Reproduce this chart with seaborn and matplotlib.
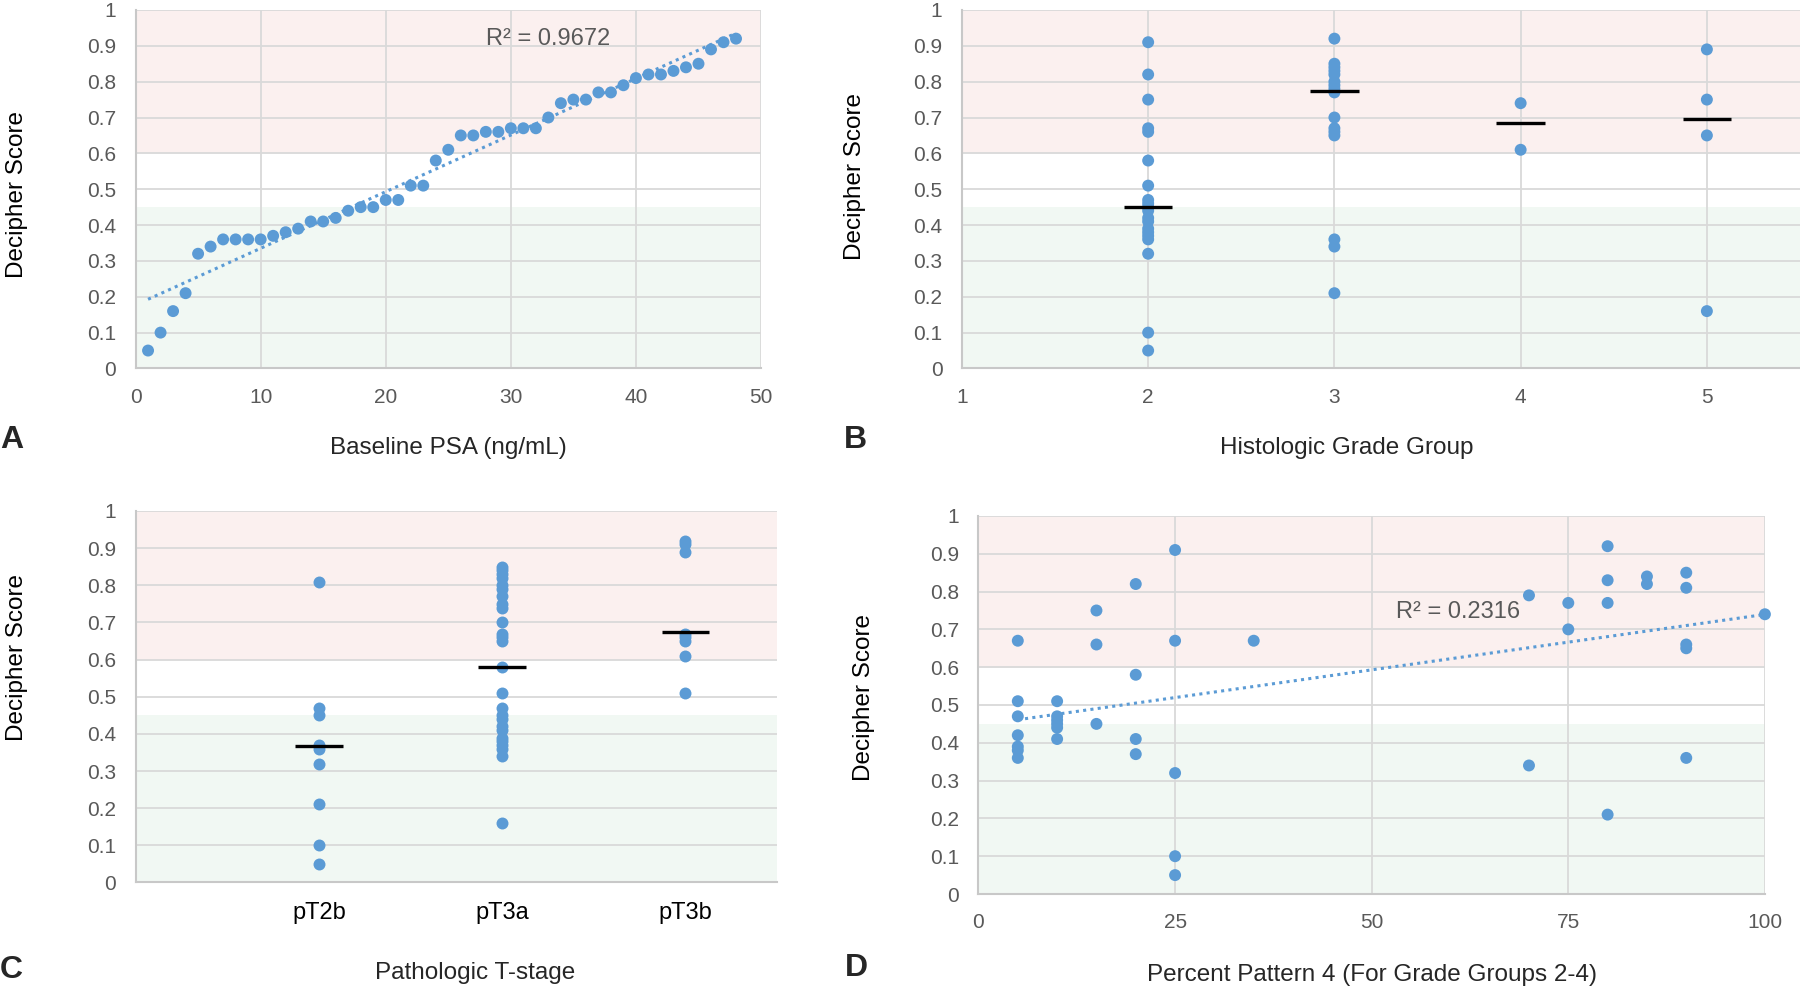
import numpy as np
import pandas as pd
import matplotlib
matplotlib.use("Agg")
import matplotlib.pyplot as plt
import seaborn as sns

# ---- data ----
# Panel A: Decipher score vs baseline PSA rank
psa_x = list(range(1, 49))
psa_score = [0.05, 0.10, 0.16, 0.21, 0.32, 0.34, 0.36, 0.36, 0.36, 0.36,
             0.37, 0.38, 0.39, 0.41, 0.41, 0.42, 0.44, 0.45, 0.45, 0.47,
             0.47, 0.51, 0.51, 0.58, 0.61, 0.65, 0.65, 0.66, 0.66, 0.67,
             0.67, 0.67, 0.70, 0.74, 0.75, 0.75, 0.77, 0.77, 0.79, 0.81,
             0.82, 0.82, 0.83, 0.84, 0.85, 0.89, 0.91, 0.92]
psa_r2 = "R² = 0.9672"

# Panel B: histologic grade group
grade_groups = [2, 3, 4, 5]
grade_scores = {
    2: [0.91, 0.82, 0.75, 0.67, 0.66, 0.58, 0.51, 0.47, 0.46, 0.45,
        0.44, 0.42, 0.41, 0.39, 0.38, 0.37, 0.36, 0.32, 0.10, 0.05],
    3: [0.92, 0.85, 0.84, 0.83, 0.82, 0.80, 0.79, 0.78, 0.77, 0.70,
        0.67, 0.66, 0.65, 0.36, 0.34, 0.21],
    4: [0.74, 0.61],
    5: [0.89, 0.75, 0.65, 0.16],
}
grade_medians = [0.45, 0.775, 0.685, 0.695]

# Panel C: pathologic T-stage
stages = ["pT2b", "pT3a", "pT3b"]
stage_scores = {
    "pT2b": [0.81, 0.47, 0.45, 0.37, 0.36, 0.32, 0.21, 0.10, 0.05],
    "pT3a": [0.85, 0.84, 0.83, 0.82, 0.80, 0.79, 0.77, 0.75, 0.74, 0.70,
             0.67, 0.66, 0.65, 0.58, 0.51, 0.47, 0.45, 0.44, 0.42, 0.41,
             0.39, 0.38, 0.37, 0.36, 0.34, 0.16],
    "pT3b": [0.92, 0.91, 0.89, 0.67, 0.66, 0.65, 0.61, 0.51],
}
stage_medians = [0.367, 0.58, 0.673]

# Panel D: percent pattern 4
pat4_x = [5, 5, 5, 5, 5, 5, 5,
          10, 10, 10, 10, 10, 10,
          15, 15, 15,
          20, 20, 20, 20,
          25, 25, 25, 25, 25,
          35,
          70, 70,
          75, 75,
          80, 80, 80, 80,
          85, 85,
          90, 90, 90, 90, 90,
          100]
pat4_score = [0.67, 0.51, 0.47, 0.42, 0.39, 0.38, 0.36,
              0.51, 0.47, 0.46, 0.45, 0.44, 0.41,
              0.75, 0.66, 0.45,
              0.82, 0.58, 0.41, 0.37,
              0.91, 0.67, 0.32, 0.10, 0.05,
              0.67,
              0.79, 0.34,
              0.77, 0.70,
              0.92, 0.83, 0.77, 0.21,
              0.84, 0.82,
              0.85, 0.81, 0.66, 0.65, 0.36,
              0.74]
pat4_r2 = "R² = 0.2316"

y_ticks = [0, 0.1, 0.2, 0.3, 0.4, 0.5, 0.6, 0.7, 0.8, 0.9, 1.0]
y_tick_labels = ["0", "0.1", "0.2", "0.3", "0.4", "0.5", "0.6", "0.7", "0.8", "0.9", "1"]

# ---- style ----
sns.set_style("white")
plt.rcParams['font.family'] = ['Liberation Sans', 'DejaVu Sans']

BLUE = '#5B9BD5'
PINK = '#FBF0EF'
GREEN = '#F1F8F3'
GRID = '#D9D9D9'
TICK = '#595959'
LABEL_SIZE = 17.5

fig = plt.figure(figsize=(18, 9.86), dpi=100)
ax_a = fig.add_axes([0.0753, 0.6263, 0.3475, 0.3636])
ax_b = fig.add_axes([0.5344, 0.6263, 0.4656, 0.3636])
ax_c = fig.add_axes([0.0753, 0.1050, 0.3564, 0.3768])
ax_d = fig.add_axes([0.5436, 0.0933, 0.4369, 0.3834])


def base_style(ax):
    # risk bands, grid and ticks shared by all panels
    ax.axhspan(0.6, 1.0, color=PINK, zorder=0.2, lw=0)
    ax.axhspan(0.0, 0.45, color=GREEN, zorder=0.2, lw=0)
    ax.set_ylim(0, 1)
    ax.set_yticks(y_ticks)
    ax.set_yticklabels(y_tick_labels)
    ax.set_axisbelow(True)
    ax.grid(True, color=GRID, lw=1.3)
    for side in ['top', 'right']:
        ax.spines[side].set_visible(False)
    for side in ['left', 'bottom']:
        ax.spines[side].set_color('#C8C8C8')
        ax.spines[side].set_linewidth(1.5)
    ax.tick_params(length=0, labelsize=15, labelcolor=TICK, pad=14)
    ax.set_ylabel('Decipher Score', fontsize=LABEL_SIZE, color='black')
    ax.yaxis.label.set_va('center')
    ax.xaxis.label.set_va('center')


# Panel A
base_style(ax_a)
sns.scatterplot(x=psa_x, y=psa_score, ax=ax_a, color=BLUE, s=74,
                edgecolor='none', zorder=3)
k, b = np.polyfit(psa_x, psa_score, 1)
fit_x = np.array([min(psa_x), max(psa_x)])
ax_a.plot(fit_x, k * fit_x + b, color=BLUE, lw=2.2, ls=(0, (1, 1.4)), zorder=2)
ax_a.text(33, 0.92, psa_r2, fontsize=17, color=TICK, ha='center', va='center')
ax_a.set_xlim(0, 50)
ax_a.set_xticks([0, 10, 20, 30, 40, 50])
ax_a.set_xlabel('Baseline PSA (ng/mL)', fontsize=LABEL_SIZE)
ax_a.xaxis.set_label_coords(0.5, -0.222)
ax_a.yaxis.set_label_coords(-0.189, 0.485)

# Panel B
base_style(ax_b)
df_b = pd.DataFrame([(g, v) for g in grade_groups for v in grade_scores[g]],
                    columns=['grade', 'score'])
sns.scatterplot(data=df_b, x='grade', y='score', ax=ax_b, color=BLUE, s=74,
                edgecolor='none', zorder=3)
ax_b.hlines(grade_medians, np.array(grade_groups) - 0.13, np.array(grade_groups) + 0.13,
            color='black', lw=2.4, zorder=4)
ax_b.set_xlim(1, 5.5)
ax_b.set_xticks([1, 2, 3, 4, 5])
ax_b.set_xlabel('Histologic Grade Group', fontsize=LABEL_SIZE)
ax_b.xaxis.set_label_coords(0.459, -0.222)
ax_b.yaxis.set_label_coords(-0.128, 0.535)

# Panel C
base_style(ax_c)
df_c = pd.DataFrame([(s, v) for s in stages for v in stage_scores[s]],
                    columns=['stage', 'score'])
sns.stripplot(data=df_c, x='stage', y='score', order=stages, ax=ax_c,
              color=BLUE, size=8.6, jitter=False, linewidth=0, zorder=3)
pos_c = np.arange(len(stages))
ax_c.hlines(stage_medians, pos_c - 0.13, pos_c + 0.13, color='black', lw=2.4, zorder=4)
ax_c.set_xlim(-1, 2.5)
ax_c.set_ylim(0, 1)
ax_c.tick_params(axis='x', labelcolor='black', labelsize=17)
ax_c.set_xlabel('Pathologic T-stage', fontsize=LABEL_SIZE)
ax_c.set_ylabel('Decipher Score', fontsize=LABEL_SIZE)
ax_c.xaxis.label.set_va('center')
ax_c.yaxis.label.set_va('center')
ax_c.xaxis.set_label_coords(0.53, -0.243)
ax_c.yaxis.set_label_coords(-0.185, 0.606)

# Panel D
base_style(ax_d)
sns.scatterplot(x=pat4_x, y=pat4_score, ax=ax_d, color=BLUE, s=74,
                edgecolor='none', zorder=3, clip_on=False)
k, b = np.polyfit(pat4_x, pat4_score, 1)
fit_x = np.array([min(pat4_x), max(pat4_x)])
ax_d.plot(fit_x, k * fit_x + b, color=BLUE, lw=2.2, ls=(0, (1, 1.4)), zorder=2)
ax_d.text(61, 0.745, pat4_r2, fontsize=17, color=TICK, ha='center', va='center')
ax_d.set_xlim(0, 100)
ax_d.set_xticks([0, 25, 50, 75, 100])
ax_d.set_xlabel('Percent Pattern 4 (For Grade Groups 2-4)', fontsize=LABEL_SIZE)
ax_d.xaxis.set_label_coords(0.5, -0.214)
ax_d.yaxis.set_label_coords(-0.145, 0.52)

# panel letters
for letter, px, py in [('A', 11.5, 440), ('B', 855, 440), ('C', 11.5, 970), ('D', 856, 968)]:
    fig.text(px / 1800, 1 - py / 986, letter, fontsize=23, fontweight='bold',
             ha='center', va='center')

fig.savefig('out.png', dpi=100)
